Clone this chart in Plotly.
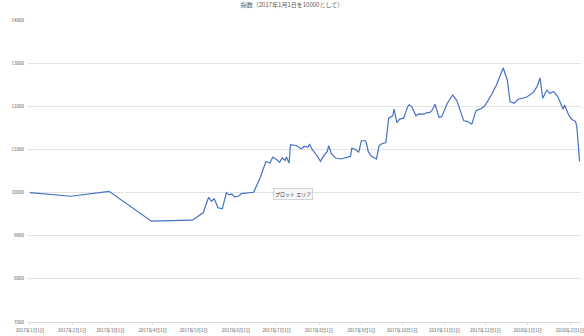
import plotly.graph_objects as go

dates = [
    "2017-01-01", "2017-01-31", "2017-02-28", "2017-03-31", "2017-04-30",
    "2017-05-08", "2017-05-12", "2017-05-14", "2017-05-16", "2017-05-19",
    "2017-05-22", "2017-05-25", "2017-05-27", "2017-05-29", "2017-05-31",
    "2017-06-03", "2017-06-05", "2017-06-14", "2017-06-19", "2017-06-23",
    "2017-06-26", "2017-06-28", "2017-07-01", "2017-07-03", "2017-07-05",
    "2017-07-07", "2017-07-08", "2017-07-10", "2017-07-11", "2017-07-15",
    "2017-07-19", "2017-07-21", "2017-07-24", "2017-07-25", "2017-07-27",
    "2017-07-30", "2017-08-02", "2017-08-04", "2017-08-07", "2017-08-08",
    "2017-08-10", "2017-08-13", "2017-08-17", "2017-08-24", "2017-08-25",
    "2017-08-28", "2017-08-30", "2017-09-01", "2017-09-04", "2017-09-05",
    "2017-09-06", "2017-09-08", "2017-09-12", "2017-09-14", "2017-09-16",
    "2017-09-19", "2017-09-21", "2017-09-24", "2017-09-25", "2017-09-26",
    "2017-09-27", "2017-09-29", "2017-10-02", "2017-10-05", "2017-10-06",
    "2017-10-08", "2017-10-11", "2017-10-13", "2017-10-17", "2017-10-19",
    "2017-10-21", "2017-10-23", "2017-10-25", "2017-10-28", "2017-10-30",
    "2017-11-03", "2017-11-07", "2017-11-10", "2017-11-15", "2017-11-18",
    "2017-11-21", "2017-11-24", "2017-11-27", "2017-11-30", "2017-12-02",
    "2017-12-06", "2017-12-09", "2017-12-14", "2017-12-17", "2017-12-19",
    "2017-12-22", "2017-12-25", "2017-12-31", "2018-01-05", "2018-01-08",
    "2018-01-10", "2018-01-12", "2018-01-15", "2018-01-17", "2018-01-20",
    "2018-01-23", "2018-01-27", "2018-01-28", "2018-01-31", "2018-02-02",
    "2018-02-05", "2018-02-06", "2018-02-08",
]
index_values = [
    10000, 9915, 10030, 9337, 9360,
    9531, 9891, 9799, 9855, 9647,
    9624, 9993, 9947, 9970, 9901,
    9915, 9977, 10007, 10362, 10720,
    10686, 10824, 10762, 10700, 10801,
    10746, 10824, 10686, 11108, 11092,
    11016, 11069, 11055, 11124, 10993,
    10877, 10723, 10838, 10954, 11085,
    10900, 10801, 10778, 10838, 11032,
    10993, 10931, 11201, 11201, 11108,
    10954, 10854, 10778, 11085, 11131,
    11161, 11725, 11778, 11933, 11762,
    11623, 11702, 11725, 11993, 12032,
    11993, 11778, 11824, 11817, 11854,
    11854, 11916, 12048, 11739, 11762,
    12071, 12263, 12131, 11669, 11646,
    11586, 11900, 11933, 11993, 12085,
    12302, 12494, 12886, 12609, 12108,
    12071, 12164, 12210, 12316, 12471,
    12655, 12187, 12378, 12302, 12339,
    12224, 11933, 12032, 11801, 11702,
    11646, 11531, 10723,
]

x_tick_dates = [
    "2017-01-01", "2017-02-01", "2017-03-01", "2017-04-01", "2017-05-01",
    "2017-06-01", "2017-07-01", "2017-08-01", "2017-09-01", "2017-10-01",
    "2017-11-01", "2017-12-01", "2018-01-01", "2018-02-01",
]
x_tick_labels = [
    "2017年1月1日", "2017年2月1日", "2017年3月1日", "2017年4月1日", "2017年5月1日",
    "2017年6月1日", "2017年7月1日", "2017年8月1日", "2017年9月1日", "2017年10月1日",
    "2017年11月1日", "2017年12月1日", "2018年1月1日", "2018年2月1日",
]
y_tick_values = [7000, 8000, 9000, 10000, 11000, 12000, 13000, 14000]
y_tick_labels = ["7000", "8000", "9000", "10000", "11000", "12000", "13000", "14000"]

FONT = "Noto Sans CJK JP"
GRAY = "#595959"

fig = go.Figure()
fig.add_trace(go.Scatter(
    x=dates, y=index_values, mode="lines",
    line=dict(color="#4472C4", width=1.2),
    hoverinfo="skip", showlegend=False,
))

fig.update_layout(
    width=584, height=336,
    margin=dict(l=28, r=0, t=20, b=14),
    paper_bgcolor="white", plot_bgcolor="white",
    font=dict(family=FONT, color=GRAY, size=4.5),
    title=dict(text="指数（2017年1月1日を10000として）",
               x=0.5, xanchor="center", y=0.985, yanchor="middle",
               font=dict(family=FONT, size=6, color=GRAY)),
    xaxis=dict(
        type="date",
        range=["2016-12-30 13:00", "2018-02-09 01:00"],
        tickvals=x_tick_dates, ticktext=x_tick_labels,
        tickangle=0,
        showgrid=False, zeroline=False,
        showline=True, linecolor="#d9d9d9", linewidth=1,
        ticks="outside", ticklen=2, tickcolor="#d9d9d9",
        ticklabelstandoff=2, ticklabeloverflow="allow",
        tickfont=dict(size=4.5, color=GRAY),
    ),
    yaxis=dict(
        range=[7000, 14000],
        tickvals=y_tick_values, ticktext=y_tick_labels,
        showgrid=True, gridcolor="#e3e3e3", gridwidth=1,
        zeroline=False, showline=False,
        ticks="", ticklabelstandoff=3,
        tickfont=dict(size=4.5, color=GRAY),
    ),
    annotations=[dict(
        text="プロット エリア", x=0.48, y=0.424, xref="paper", yref="paper",
        xanchor="center", yanchor="middle",
        showarrow=False, font=dict(size=5, color="#333333", family=FONT),
        bgcolor="#f7f7f7", bordercolor="#bbbbbb", borderwidth=0.6, borderpad=1.5,
    )],
)

fig.write_html("out.html")
